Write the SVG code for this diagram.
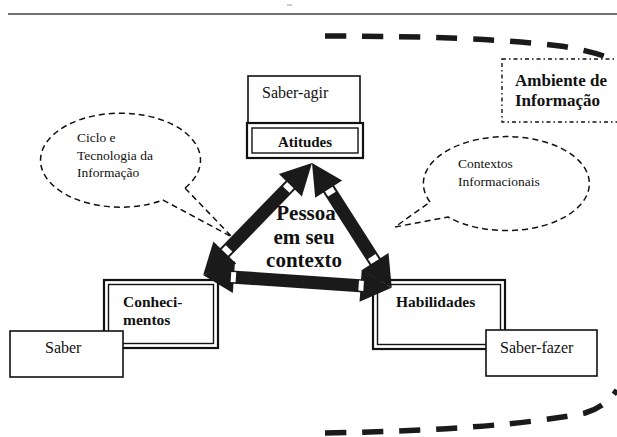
<svg xmlns="http://www.w3.org/2000/svg" width="617" height="437" viewBox="0 0 617 437">
<style>
  .serif { font-family: "Liberation Serif", "Times New Roman", serif; fill: #111; }
  .b { font-weight: bold; }
  .box { fill: #fff; stroke: #111; stroke-width: 1.6; }
  .dbl-o { fill: #fff; stroke: #111; stroke-width: 2.2; }
  .dbl-i { fill: none; stroke: #111; stroke-width: 1.4; }
  .callout { fill: none; stroke: #111; stroke-width: 1.5; stroke-dasharray: 6 4; }
  .env { fill: none; stroke: #1a1a1a; stroke-width: 5.5; stroke-dasharray: 21 16; }
  .arrow { fill: #1a1a1a; }
  .tick { fill: #fff; }
</style>

<!-- header rule -->
<line x1="8" y1="14" x2="617" y2="14" stroke="#444" stroke-width="1.3"/>
<line x1="287" y1="5" x2="292" y2="5" stroke="#999" stroke-width="1"/>

<!-- environment boundary -->
<g id="environment">
  <path class="env" d="M325,36 Q480,36 560,46 Q600,52 617,62"/>
  <path class="env" d="M325,433 Q500,430 585,413 Q605,407 617,390"/>
</g>

<g id="ambiente">
  <rect x="502" y="59" width="125" height="63" fill="#fff" stroke="#111" stroke-width="1.4" stroke-dasharray="4 3 1.5 3"/>
  <text class="serif b" x="515" y="86" font-size="17">Ambiente de</text>
  <text class="serif b" x="515" y="106" font-size="17">Informação</text>
</g>

<!-- callouts -->
<g id="callout-ciclo">
  <path class="callout" d="M185,188 A80,47 0 1 0 163,200 L232,237 Z"/>
  <text class="serif" x="77" y="142" font-size="13.5">Ciclo e</text>
  <text class="serif" x="77" y="160" font-size="13.5">Tecnologia da</text>
  <text class="serif" x="77" y="177" font-size="13.5">Informação</text>
</g>

<g id="callout-contextos">
  <path class="callout" d="M430,202 A83,47 0 1 1 448,217 L395,227 Z"/>
  <text class="serif" x="458" y="168" font-size="13.5">Contextos</text>
  <text class="serif" x="458" y="186" font-size="13.5">Informacionais</text>
</g>

<!-- nodes -->
<g id="saber-agir">
  <rect class="box" x="248" y="76" width="112" height="48"/>
  <text class="serif" x="262" y="98" font-size="16">Saber-agir</text>
</g>

<g id="atitudes">
  <rect class="dbl-o" x="247" y="123" width="116" height="35"/>
  <rect class="dbl-i" x="252" y="128" width="106" height="25"/>
  <text class="serif b" x="305" y="147" font-size="15" text-anchor="middle">Atitudes</text>
</g>

<g id="conhecimentos">
  <rect class="dbl-o" x="104" y="280" width="114" height="68"/>
  <rect class="dbl-i" x="108.5" y="284.5" width="105" height="59"/>
  <text class="serif b" x="123" y="307" font-size="15.5">Conheci-</text>
  <text class="serif b" x="123" y="325" font-size="15.5">mentos</text>
</g>

<g id="saber">
  <rect class="box" x="10" y="331" width="113" height="46"/>
  <text class="serif" x="45" y="353" font-size="16">Saber</text>
</g>

<g id="habilidades">
  <rect class="dbl-o" x="373" y="280" width="132" height="69"/>
  <rect class="dbl-i" x="377.5" y="284.5" width="123" height="60"/>
  <text class="serif b" x="396" y="307" font-size="15.5">Habilidades</text>
</g>

<g id="saber-fazer">
  <rect class="box" x="486" y="330" width="111" height="46"/>
  <text class="serif" x="500" y="353" font-size="16">Saber-fazer</text>
</g>

<!-- connectors -->
<g id="connectors">
  <g transform="translate(312,163) rotate(134.2)">
    <rect class="arrow" x="28" y="-6.5" width="100" height="13"/>
    <polygon class="arrow" points="0,0 31,-16 31,16"/>
    <polygon class="arrow" points="156,0 125,-16 125,16"/>
    <rect class="tick" x="31" y="-4.5" width="6" height="9"/>
    <rect class="tick" x="119" y="-4.5" width="6" height="9"/>
  </g>
  <g transform="translate(312,163) rotate(57.4)">
    <rect class="arrow" x="28" y="-6.5" width="92" height="13"/>
    <polygon class="arrow" points="0,0 31,-16 31,16"/>
    <polygon class="arrow" points="148,0 117,-16 117,16"/>
    <rect class="tick" x="31" y="-4.5" width="6" height="9"/>
    <rect class="tick" x="111" y="-4.5" width="6" height="9"/>
  </g>
  <g transform="translate(203,275) rotate(3.9)">
    <rect class="arrow" x="28" y="-6.5" width="133" height="13"/>
    <polygon class="arrow" points="0,0 31,-16 31,16"/>
    <polygon class="arrow" points="189,0 158,-16 158,16"/>
    <rect class="tick" x="28" y="-5" width="5" height="10"/>
    <rect class="tick" x="156" y="-5" width="5" height="10"/>
  </g>
</g>

<g id="pessoa">
  <text class="serif b" x="306" y="220" font-size="21" text-anchor="middle">Pessoa</text>
  <text class="serif b" x="304" y="244" font-size="21" text-anchor="middle">em seu</text>
  <text class="serif b" x="304" y="267" font-size="21" text-anchor="middle">contexto</text>
</g>
</svg>
